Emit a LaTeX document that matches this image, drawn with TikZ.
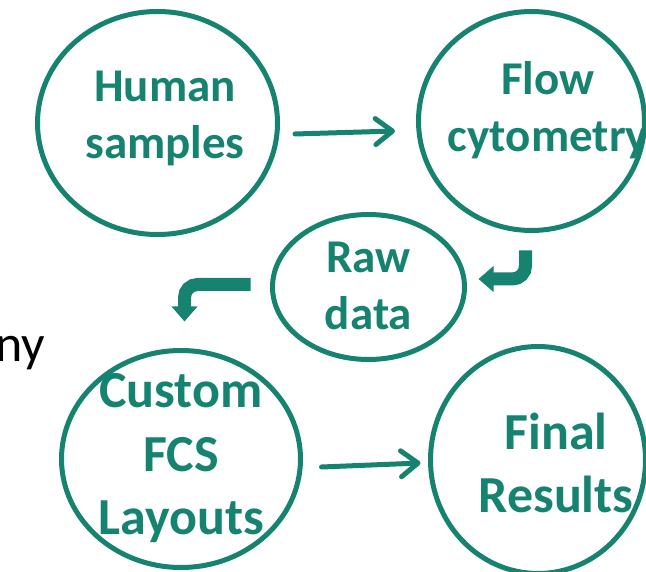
\documentclass[tikz,border=0pt]{standalone}
\usepackage{fontspec}
\setmainfont{Carlito}
\usepackage{tikz}
\usetikzlibrary{arrows.meta,shapes.geometric,positioning,calc}
\definecolor{flowteal}{RGB}{22,131,112}

\begin{document}
\begin{tikzpicture} [x=1pt, y=-1pt,
  bubble/.style={ellipse, draw=flowteal, line width=5pt, inner sep=0pt},
  lbl/.style={text=flowteal, align=center, font=\bfseries\fontsize{47}{57}\selectfont},
  biglbl/.style={text=flowteal, align=center, font=\bfseries\fontsize{52}{63.5}\selectfont},
  thin arrow/.style={draw=flowteal, line width=5pt, line cap=round, -{Straight Barb[length=17pt,width=26pt,round]}},
  bent arrow/.style={draw=flowteal, line width=13pt, rounded corners=13pt, -{Triangle[length=15pt,width=25pt]}}]
\useasboundingbox (0,0) rectangle (646,572);
\clip (0,0) rectangle (646,572);
\node[bubble, minimum width=240pt, minimum height=223pt] (human) at (157.5,123) {};
\node[bubble, minimum width=226pt, minimum height=219pt] (flow) at (531.5,121) {};
\node[bubble, minimum width=192pt, minimum height=145pt] (raw) at (368.5,287) {};
\node[bubble, minimum width=239pt, minimum height=217pt] (custom) at (181,459) {};
\node[bubble, minimum width=215pt, minimum height=227pt] (final) at (538,460) {};
\node[lbl] (humanlbl) at (165,118.5) {Human\\samples};
\node[lbl] (flowlbl) at (548,110) {Flow\\cytometry};
\node[lbl] (rawlbl) at (368.5,285.5) {Raw\\data};
\node[biglbl] (customlbl) at (181,458.5) {Custom\\FCS\\Layouts};
\node[biglbl] (finallbl) at (556,463) {Final\\Results};
\node[anchor=base east, font=\fontsize{52}{62}\selectfont] (ny) at (49,362) {ny};
\draw[thin arrow] ([xshift=15pt,yshift=-11pt]human.east) -- ([xshift=-21pt,yshift=-10pt]flow.west);
\draw[bent arrow] ([xshift=-6pt,yshift=-17.5pt]flow.south) |- ([xshift=11.5pt,yshift=8pt]raw.east);
\draw[bent arrow] ([xshift=-19.5pt,yshift=2.5pt]raw.west) -| ([xshift=3.5pt,yshift=26.5pt]custom.north);
\draw[thin arrow] ([xshift=18.5pt,yshift=-8pt]custom.east) -- ([xshift=-7.5pt,yshift=-3pt]final.west);
\end{tikzpicture}
\end{document}
